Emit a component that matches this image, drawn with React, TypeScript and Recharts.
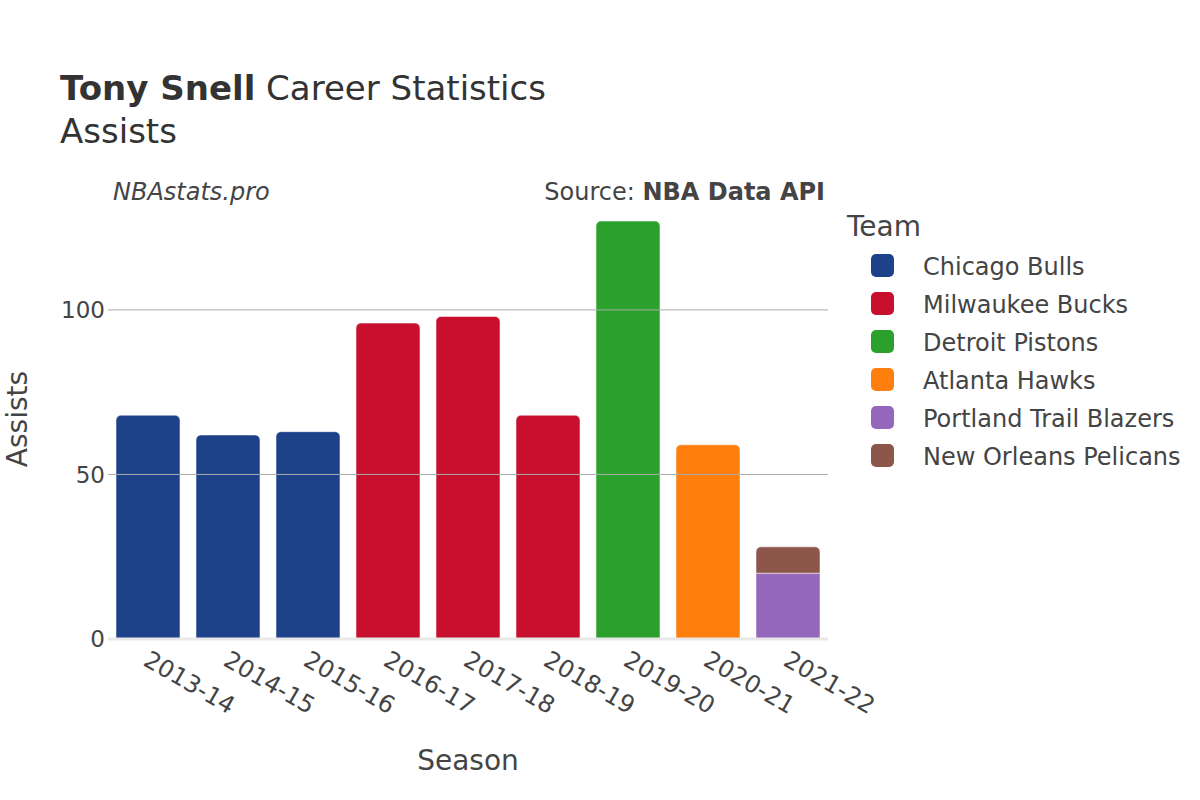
import { Bar, BarChart, Label, ReferenceLine, XAxis, YAxis } from "recharts";

const seasons = ["2013-14", "2014-15", "2015-16", "2016-17", "2017-18", "2018-19", "2019-20", "2020-21", "2021-22"];

const teams = ["Chicago Bulls", "Milwaukee Bucks", "Detroit Pistons", "Atlanta Hawks", "Portland Trail Blazers", "New Orleans Pelicans"];
const teamColors = ["#1d428a", "#c8102e", "#2ca02c", "#ff7f0e", "#9467bd", "#8c564b"];

const chicagoBulls = [68, 62, 63, null, null, null, null, null, null];
const milwaukeeBucks = [null, null, null, 96, 98, 68, null, null, null];
const detroitPistons = [null, null, null, null, null, null, 127, null, null];
const atlantaHawks = [null, null, null, null, null, null, null, 59, null];
const portlandTrailBlazers = [null, null, null, null, null, null, null, null, 20];
const newOrleansPelicans = [null, null, null, null, null, null, null, null, 8];

const yTicks = [0, 50, 100];

const seriesValues = [chicagoBulls, milwaukeeBucks, detroitPistons, atlantaHawks, portlandTrailBlazers, newOrleansPelicans];

const rows = seasons.map((season, i) => {
  const row: Record<string, string | number | null> = { season };
  teams.forEach((team, t) => {
    row[team] = seriesValues[t][i];
  });
  return row;
});

const FONT = "'DejaVu Sans', sans-serif";
const TEXT = "#444";

const SeasonTick = (props: any) => {
  const { x, y, payload } = props;
  return (
    <g transform={`translate(${x + 3},${y + 10})`}>
      <text transform="rotate(30)" textAnchor="start" dy="0.75em" fontSize={24} fill={TEXT} fontFamily={FONT}>
        {payload.value}
      </text>
    </g>
  );
};

export default function App() {
  return (
    <div style={{ position: "absolute", left: 0, top: 0, width: 1200, height: 800, background: "#fff" }}>
      <BarChart
        width={1200}
        height={800}
        data={rows}
        margin={{ top: 199, right: 372, bottom: 81, left: 48 }}
        barCategoryGap={8}
      >
        <XAxis
          dataKey="season"
          height={80}
          tickLine={false}
          axisLine={false}
          tickSize={0}
          tickMargin={0}
          interval={0}
          tick={<SeasonTick />}
        >
          <Label
            content={(p: any) => (
              <text x={p.viewBox.x + p.viewBox.width / 2} y={770} textAnchor="middle" fontSize={28} fill={TEXT} fontFamily={FONT}>
                Season
              </text>
            )}
          />
        </XAxis>
        <YAxis
          width={60}
          domain={[0, 133.7]}
          ticks={yTicks}
          tickLine={false}
          axisLine={false}
          tickSize={0}
          tickMargin={3}
          tick={{ fontSize: 23, fill: TEXT, fontFamily: FONT }}
        >
          <Label
            content={(p: any) => {
              const cy = p.viewBox.y + p.viewBox.height / 2;
              return (
                <text x={27} y={cy} transform={`rotate(-90, 27, ${cy})`} textAnchor="middle" fontSize={28} fill={TEXT} fontFamily={FONT}>
                  Assists
                </text>
              );
            }}
          />
        </YAxis>
        {yTicks
          .filter((v) => v > 0)
          .map((v) => (
            <ReferenceLine key={v} y={v} stroke="#aaa" strokeWidth={1} />
          ))}
        <ReferenceLine y={0} stroke="#e8e8e8" strokeWidth={3} />
        {teams.map((team, t) => (
          <Bar
            key={team}
            dataKey={team}
            stackId="season"
            fill={teamColors[t]}
            stroke="rgba(255,255,255,0.5)"
            strokeWidth={1}
            radius={team === "Portland Trail Blazers" ? 0 : [5, 5, 0, 0]}
            isAnimationActive={false}
          />
        ))}
      </BarChart>

      <svg width={1200} height={800} style={{ position: "absolute", left: 0, top: 0, pointerEvents: "none" }}>
        <text x={60} y={100} fontSize={34} fill="#333" fontFamily={FONT}>
          <tspan fontWeight="bold">Tony Snell</tspan> Career Statistics
        </text>
        <text x={60} y={143} fontSize={34} fill="#333" fontFamily={FONT}>
          Assists
        </text>
        <text x={113} y={200} fontSize={24} fontStyle="italic" fill={TEXT} fontFamily={FONT}>
          NBAstats.pro
        </text>
        <text x={825} y={200} fontSize={24} textAnchor="end" fill={TEXT} fontFamily={FONT}>
          Source: <tspan fontWeight="bold">NBA Data API</tspan>
        </text>
        <text x={847} y={236} fontSize={28} fill={TEXT} fontFamily={FONT}>
          Team
        </text>
        {teams.map((team, t) => (
          <g key={team}>
            <rect x={871} y={254 + t * 38} width={23} height={23} rx={5} fill={teamColors[t]} />
            <text x={923} y={274.5 + t * 38} fontSize={24} fill={TEXT} fontFamily={FONT}>
              {team}
            </text>
          </g>
        ))}
      </svg>
    </div>
  );
}
